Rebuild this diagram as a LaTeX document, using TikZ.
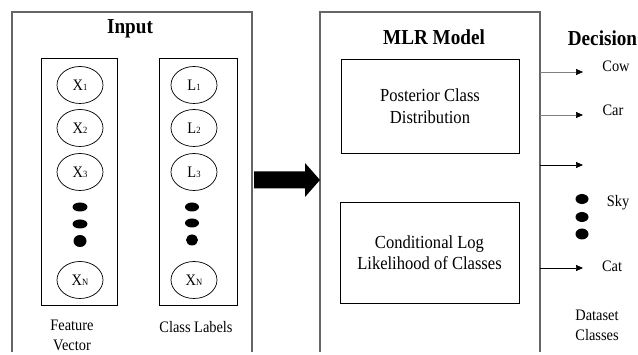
\documentclass[tikz,border=0pt]{standalone}
\usepackage{fontspec}
\setmainfont[FakeStretch=0.9]{Liberation Serif}
\usetikzlibrary{arrows.meta,shapes.geometric}
% small index digit/letter set on the baseline
\newcommand\unitidx[1]{{\fontsize{9.5}{9.5}\selectfont #1}}
\begin{document}
\begin{tikzpicture}[x=1pt,y=-1pt,
  frame/.style={draw=black!60, line width=1.1pt},
  column/.style={draw=black, line width=0.8pt, rectangle, inner sep=0pt},
  stage/.style={draw=black, line width=0.8pt, rectangle, inner sep=0pt, align=center,
    font=\fontsize{18.4}{21.5}\selectfont},
  unit/.style={draw=black, line width=0.7pt, ellipse, inner sep=0pt,
    minimum width=46pt, minimum height=37pt, font=\fontsize{16}{16}\selectfont},
  dot/.style={fill=black, ellipse, inner sep=0pt, minimum width=#1},
  title/.style={font=\fontsize{21.3}{24}\selectfont\bfseries, inner sep=0pt},
  caption/.style={font=\fontsize{16}{20}\selectfont, align=center, inner sep=0pt},
  classarrow/.style={line width=0.7pt, -{Triangle[length=7pt,width=6pt,color=black]}}]
\useasboundingbox (0,0) rectangle (638,355);

% open-bottomed panels
\draw[frame] (12,352) -- (12,12) -- (252,12) -- (252,352);
\draw[frame] (320,352) -- (320,12) -- (540,12) -- (540,352);
\coordinate (inR) at (252,180);
\coordinate (mlrL) at (320,180);

% ---- input panel ----
\node[title] (input) at (130,29) {Input};
\node[column, minimum width=76pt, minimum height=247pt] (feat) at (79,181.5) {};
\node[column, minimum width=78pt, minimum height=247pt] (lab) at (198,181.5) {};

\node[unit] (x1) at (80,85)  {X\unitidx{1}};
\node[unit] (x2) at (80,128) {X\unitidx{2}};
\node[unit] (x3) at (80,172) {X\unitidx{3}};
\node[dot=15pt, minimum height=9pt]  (xd1) at (80,207) {};
\node[dot=15pt, minimum height=9pt]  (xd2) at (80,224) {};
\node[dot=13pt, minimum height=12pt] (xd3) at (80,241) {};
\node[unit] (xn) at (80,280) {X\unitidx{N}};

\node[unit] (l1) at (194,85)  {L\unitidx{1}};
\node[unit] (l2) at (194,128) {L\unitidx{2}};
\node[unit] (l3) at (194,172) {L\unitidx{3}};
\node[dot=14pt, minimum height=9pt]  (ld1) at (192,207) {};
\node[dot=14pt, minimum height=9pt]  (ld2) at (192,223) {};
\node[dot=12pt, minimum height=11pt] (ld3) at (192,240) {};
\node[unit] (ln) at (194,280) {X\unitidx{N}};

\node[caption] (featcap) at (72,335) {Feature\\Vector};
\node[caption] (labcap) at (196,327) {Class Labels};

% ---- block arrow into the model ----
\fill (inR) ++(2,-8.5) -- ++(51,0) -- ++(0,-8.5) -- (mlrL) -- ++(-15,17)
  -- ++(0,-8.5) -- ++(-51,0) -- cycle;

% ---- model panel ----
\node[title] (mlr) at (434,37) {MLR Model};
\node[stage, minimum width=178pt, minimum height=94pt] (post) at (430,106)
  {Posterior Class\\Distribution};
\node[stage, minimum width=179pt, minimum height=101pt] (cond) at (429.5,252.5)
  {Conditional Log\\Likelihood of Classes};

% ---- decision column ----
\node[title] (dec) at (602.5,38) {Decision};
\coordinate (d1) at (583,72);
\coordinate (d2) at (583,115);
\coordinate (d3) at (583,165);
\coordinate (d4) at (583,268);
\draw[classarrow, draw=black!50] (540,72) -- (d1);
\draw[classarrow, draw=black!50] (540,115) -- (d2);
\draw[classarrow] (540,165) -- (d3);
\draw[classarrow] (540,268) -- (d4);
\node[caption] (cow) at (616,66) {Cow};
\node[caption] (car) at (613,110) {Car};
\node[caption] (sky) at (618,203) {Sky};
\node[caption] (cat) at (612,266) {Cat};
\node[dot=13pt, minimum height=10pt] (rd1) at (582,199) {};
\node[dot=13pt, minimum height=10pt] (rd2) at (582,217) {};
\node[dot=13pt, minimum height=11pt] (rd3) at (582,234) {};
\node[caption, align=left] (dscap) at (597,325) {Dataset\\Classes};
\end{tikzpicture}
\end{document}
